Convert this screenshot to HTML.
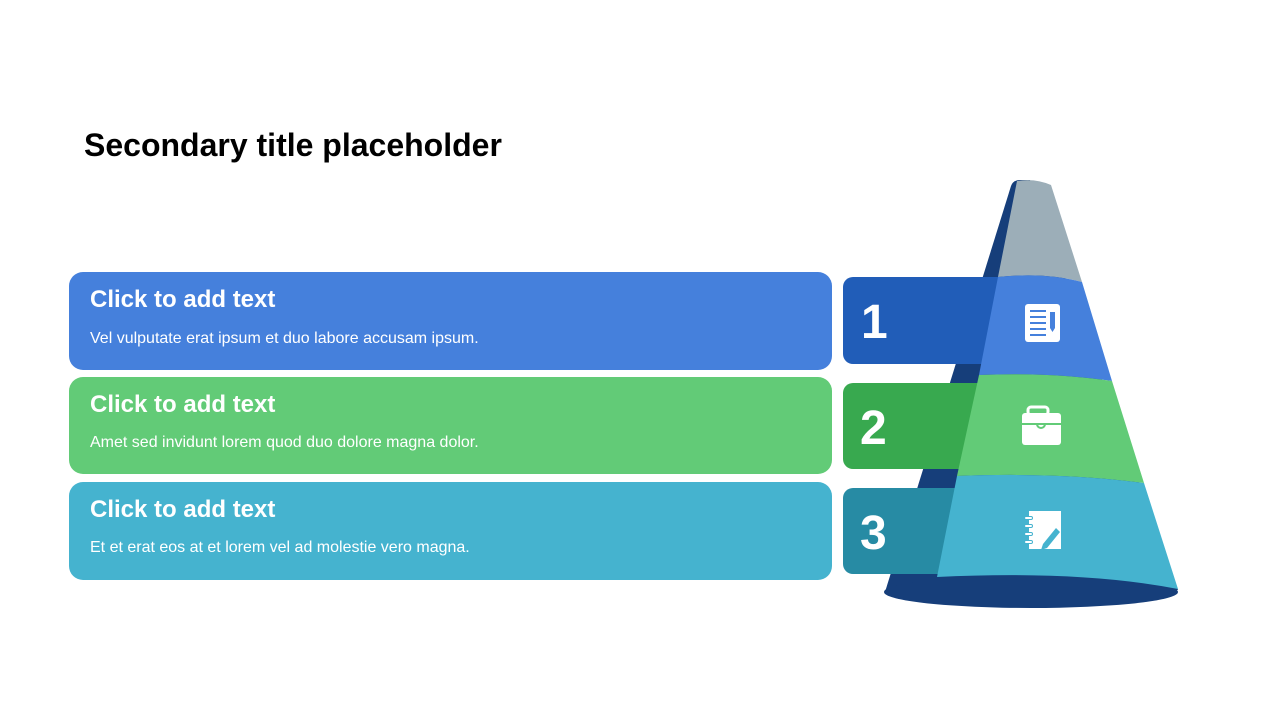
<!DOCTYPE html>
<html><head><meta charset="utf-8"><style>
html,body{margin:0;padding:0;background:#fff;}
body{width:1280px;height:720px;overflow:hidden;font-family:"Liberation Sans",Arial,sans-serif;}
</style></head><body>
<svg width="1280" height="720" viewBox="0 0 1280 720" xmlns="http://www.w3.org/2000/svg" font-family="Liberation Sans, Arial, sans-serif">
<text x="84" y="156" font-size="32" font-weight="bold" fill="#000">Secondary title placeholder</text>

<rect x="69" y="272" width="763" height="98" rx="14" fill="#4580dc"/>
<rect x="69" y="377" width="763" height="97" rx="14" fill="#62cb77"/>
<rect x="69" y="482" width="763" height="98" rx="14" fill="#45b3cf"/>
<g fill="#fff">
<text x="90" y="307" font-size="24" font-weight="bold">Click to add text</text>
<text x="90" y="343" font-size="16">Vel vulputate erat ipsum et duo labore accusam ipsum.</text>
<text x="90" y="412" font-size="24" font-weight="bold">Click to add text</text>
<text x="90" y="447" font-size="16">Amet sed invidunt lorem quod duo dolore magna dolor.</text>
<text x="90" y="517" font-size="24" font-weight="bold">Click to add text</text>
<text x="90" y="552" font-size="16">Et et erat eos at et lorem vel ad molestie vero magna.</text>
</g>

<path d="M1011 186 Q1013 180 1020 180 L1030 180 L1178 590 L885 592 Z" fill="#163e7a"/>
<ellipse cx="1031" cy="592" rx="147" ry="16" fill="#163e7a"/>

<rect x="843" y="277" width="170" height="87" rx="10" fill="#215db8"/>
<rect x="843" y="383" width="150" height="86" rx="10" fill="#38a94f"/>
<rect x="843" y="488" width="130" height="86" rx="10" fill="#278ba4"/>
<g fill="#fff" font-size="48" font-weight="bold">
<text x="861" y="338">1</text>
<text x="860" y="444">2</text>
<text x="860" y="549">3</text>
</g>

<path d="M1017 181 Q1035 178 1051 185 L1082 282 Q1045 272 998 277 Z" fill="#9caeb8"/>
<path d="M998 277 Q1045 272 1082 282 L1112 381 Q1050 372 979 375 Z" fill="#4580dc"/>
<path d="M979 375 Q1050 372 1112 381 L1144 483 Q1060 472 957 476 Z" fill="#62cb77"/>
<path d="M957 476 Q1060 472 1144 483 L1178 589 Q1080 570 937 577 Z" fill="#45b3cf"/>

<rect x="1025" y="304" width="35" height="38" rx="3" fill="#fff"/>
<g stroke="#4580dc" stroke-width="2">
<line x1="1030" y1="311" x2="1046" y2="311"/>
<line x1="1030" y1="317" x2="1046" y2="317"/>
<line x1="1030" y1="323" x2="1046" y2="323"/>
<line x1="1030" y1="329" x2="1046" y2="329"/>
<line x1="1030" y1="335" x2="1046" y2="335"/>
</g>
<path d="M1050 312 h5 v16 l-2.5 4 l-2.5 -4 z" fill="#4580dc"/>

<rect x="1028" y="407" width="20" height="8" rx="3" fill="none" stroke="#fff" stroke-width="3"/>
<rect x="1022" y="413" width="39" height="32" rx="3" fill="#fff"/>
<line x1="1022" y1="424" x2="1061" y2="424" stroke="#62cb77" stroke-width="2"/>
<path d="M1037 424 a4 4 0 0 0 8 0" fill="none" stroke="#62cb77" stroke-width="2"/>

<rect x="1029" y="511" width="32" height="38" fill="#fff"/>
<g fill="#45b3cf">
<rect x="1024" y="516" width="9" height="4" rx="2"/>
<rect x="1024" y="524" width="9" height="4" rx="2"/>
<rect x="1024" y="532" width="9" height="4" rx="2"/>
<rect x="1024" y="540" width="9" height="4" rx="2"/>
<path d="M1043 544 l13 -16 l4 4 l-13 16 l-6 2 z"/>
</g>
<g fill="#fff">
<rect x="1025" y="517" width="7" height="2" rx="1"/>
<rect x="1025" y="525" width="7" height="2" rx="1"/>
<rect x="1025" y="533" width="7" height="2" rx="1"/>
<rect x="1025" y="541" width="7" height="2" rx="1"/>
</g>
</svg>
</body></html>
